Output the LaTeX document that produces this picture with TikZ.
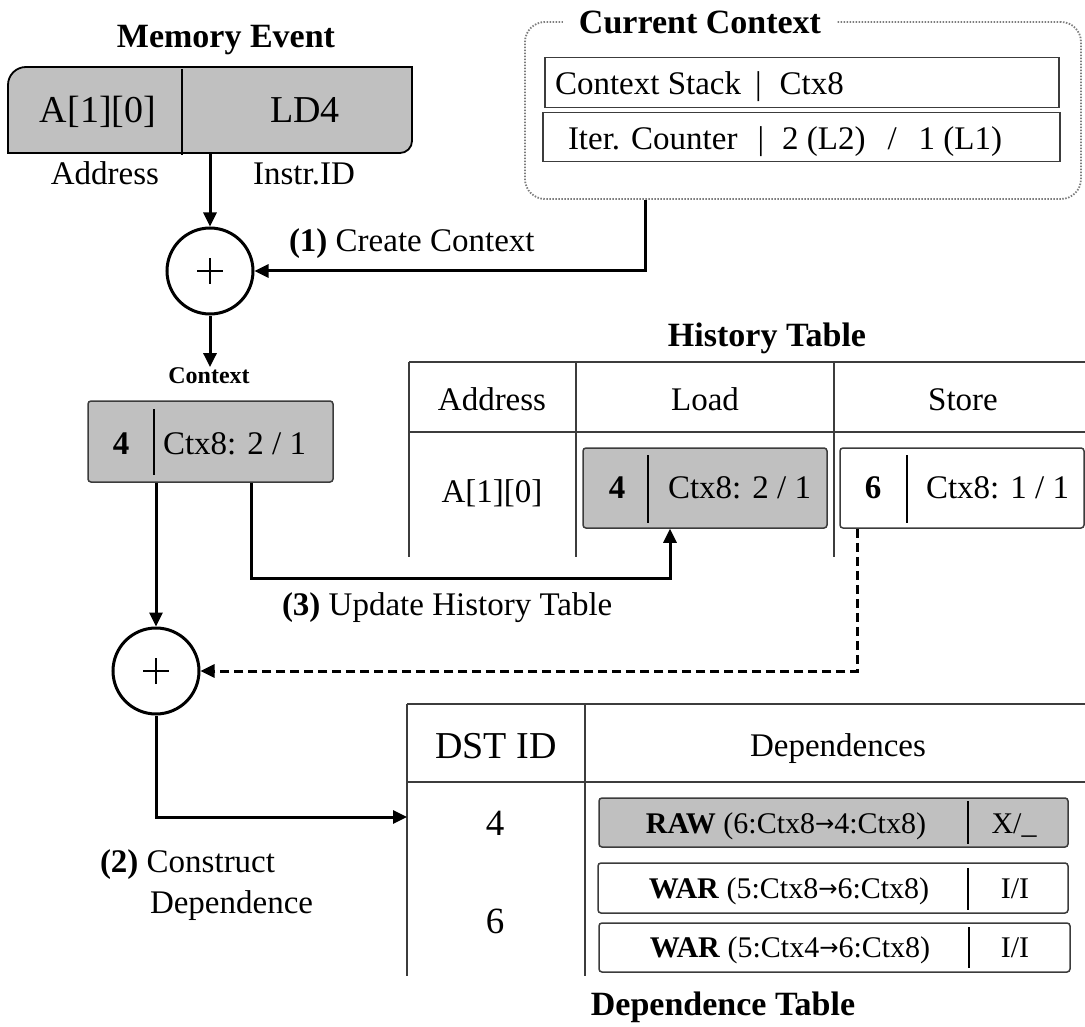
\documentclass[tikz,border=0pt]{standalone}
\usepackage{fontspec}
\setmainfont{Liberation Serif}
\newfontfamily\arrowfamily{DejaVu Sans}
\usetikzlibrary{arrows.meta}

\definecolor{cellgrey}{RGB}{192,192,192}
\definecolor{edgegrey}{RGB}{60,60,60}
\definecolor{dotgrey}{RGB}{125,125,125}
\newcommand\setfs[1]{\fontsize{#1pt}{#1pt}\selectfont}
% arrow between the two context ids of a dependence
\newcommand\deparrow{{\arrowfamily\setfs{23}\raisebox{1.5pt}{→}}}

\begin{document}
\begin{tikzpicture}[x=1pt,y=-1pt,
  txt/.style={inner sep=0pt, outer sep=0pt, font={\setfs{33}}},
  boldtitle/.style={txt, font={\setfs{34}\bfseries}},
  flow/.style={line width=3pt, -{Triangle[length=14pt,width=13pt]}},
  dashflow/.style={flow, dash pattern=on 9pt off 5pt},
  rule/.style={draw=edgegrey, line width=1.4pt},
  rec/.style={draw=edgegrey, line width=1.5pt, rounded corners=3pt, inner sep=0pt},
  divider/.style={line width=2pt},
  thindiv/.style={line width=1.4pt},
  adder/.style={circle, draw, line width=3pt, minimum size=86pt, inner sep=0pt,
    path picture={
      \draw[line width=1.2pt]
        ([xshift=-13pt]path picture bounding box.center) -- ([xshift=13pt]path picture bounding box.center)
        ([yshift=-13pt]path picture bounding box.center) -- ([yshift=13pt]path picture bounding box.center);}},
]
\useasboundingbox (0,0) rectangle (1085,1027);

% ---- memory event ----
\node[boldtitle, anchor=base] (mevtitle) at (226,48) {Memory Event};
\node[inner sep=0pt, minimum width=404pt, minimum height=86pt] (mev) at (210,110) {};
\draw[draw=black, line width=1.8pt, fill=cellgrey]
  (8,153) -- (8,85) .. controls (8,75) and (16,67) .. (26,67) -- (412,67) -- (412,141)
  .. controls (412,147.6) and (406.6,153) .. (400,153) -- cycle;
\draw[divider] (182,69) -- (182,155);
\node[txt, font={\setfs{38}}, anchor=base] (mevaddr) at (98,123) {A[1][0]};
\node[txt, font={\setfs{38}}, anchor=base] (mevinstr) at (305,123) {LD4};
\node[txt, anchor=base] (addrlbl) at (105,185) {Address};
\node[txt, anchor=base] (instrlbl) at (304,185) {Instr.ID};

% ---- current context ----
\node[draw=dotgrey, line width=1.8pt, dash pattern=on 1.5pt off 1.5pt, rounded corners=20pt,
      minimum width=556pt, minimum height=177pt, inner sep=0pt] (cc) at (803,110.5) {};
\node[boldtitle, fill=white, inner xsep=16pt, inner ysep=3pt] (cctitle) at (700,22) {Current Context};
\node[rule, minimum width=514pt, minimum height=50pt, inner sep=0pt] (csrow) at (802,82.5) {};
\node[txt, anchor=base west] (cstext) at (555,95) {Context Stack\hspace{14pt}|\hspace{18pt}Ctx8};
\node[rule, minimum width=517pt, minimum height=49pt, inner sep=0pt] (icrow) at (801.5,137) {};
\node[txt, anchor=base west] (ictext) at (568,150)
  {Iter. Counter\hspace{20pt}|\hspace{18pt}2 (L2)\hspace{22pt}/\hspace{22pt}1 (L1)};

% ---- context creation ----
\node[adder] (add1) at (210,271) {};
\draw[flow] (mev.south -| add1) -- (add1.north);
\draw[flow] ([xshift=-158pt]cc.south) |- (add1.east);
\node[txt, anchor=base west] (lbl1) at (289,252) {\textbf{(1)} Create Context};

\node[txt, font={\setfs{24}\bfseries}, anchor=base] (ctxlbl) at (209,383) {Context};
\draw[flow] (add1.south) -- (ctxlbl.north -| add1);

\node[rec, fill=cellgrey, minimum width=245pt, minimum height=81pt] (ctx) at (210.5,441.5) {};
\draw[divider] (154,409) -- (154,475);
\node[txt, font={\setfs{33}\bfseries}, anchor=base] (ctxid) at (121,454) {4};
\node[txt, anchor=base west] (ctxval) at (163,454) {Ctx8: 2 / 1};

% ---- history table ----
\node[boldtitle, anchor=base] (httitle) at (767,346) {History Table};
\draw[rule] (409,362) -- (1085,362) (409,432) -- (1085,432)
            (409,362) -- (409,557) (576,362) -- (576,557) (834,362) -- (834,557);
\node[txt, anchor=base] (htaddr) at (492,410) {Address};
\node[txt, anchor=base] (htload) at (705,410) {Load};
\node[txt, anchor=base] (htstore) at (963,410) {Store};
\node[txt, anchor=base] (htrow) at (492,502) {A[1][0]};

\node[rec, fill=cellgrey, minimum width=244pt, minimum height=80pt] (ldrec) at (705,488) {};
\draw[divider] (648,455) -- (648,523);
\node[txt, font={\setfs{33}\bfseries}, anchor=base] (ldid) at (617,498) {4};
\node[txt, anchor=base west] (ldval) at (668,498) {Ctx8: 2 / 1};

\node[rec, fill=white, minimum width=244pt, minimum height=80pt] (strec) at (962,488) {};
\draw[divider] (907,455) -- (907,523);
\node[txt, font={\setfs{33}\bfseries}, anchor=base] (stid) at (873,498) {6};
\node[txt, anchor=base west] (stval) at (926,498) {Ctx8: 1 / 1};

% ---- update and dependence construction ----
\draw[flow] ([xshift=40.5pt]ctx.south) -- ++(0,96) -| ([xshift=-35pt]ldrec.south);
\node[txt, anchor=base west] (lbl3) at (282,615) {\textbf{(3)} Update History Table};

\node[adder] (add2) at (156,671) {};
\draw[flow] (ctx.south -| add2) -- (add2.north);
\draw[dashflow] ([xshift=-105pt]strec.south) |- (add2.east);

% ---- dependence table ----
\draw[rule] (407,704) -- (1085,704) (407,782) -- (1085,782)
            (407,704) -- (407,976) (585,704) -- (585,976);
\node[txt, font={\setfs{38}}, anchor=base] (dthead) at (496,758) {DST ID};
\node[txt, anchor=base] (dtdeps) at (838,756) {Dependences};
\node[txt, font={\setfs{37}}, anchor=base] (dst4) at (495,835) {4};
\node[txt, font={\setfs{37}}, anchor=base] (dst6) at (495,933) {6};
\coordinate (dtin) at (407,817);
\draw[flow] (add2.south) |- (dtin);

\node[rec, fill=cellgrey, minimum width=469pt, minimum height=49pt] (raw) at (833.5,822.5) {};
\draw[thindiv] (968,801) -- (968,844);
\node[txt, font={\setfs{30}}, anchor=base] (rawtxt) at (786,833) {\textbf{RAW} (6:Ctx8\deparrow4:Ctx8)};
\node[txt, font={\setfs{30}}, anchor=base] (rawflag) at (1014,833) {X/\_};

\node[rec, fill=white, minimum width=470pt, minimum height=50pt] (war1) at (833,888) {};
\draw[thindiv] (968,868) -- (968,910);
\node[txt, font={\setfs{30}}, anchor=base] (war1txt) at (789,898) {\textbf{WAR} (5:Ctx8\deparrow6:Ctx8)};
\node[txt, font={\setfs{30}}, anchor=base] (war1flag) at (1015,898) {I/I};

\node[rec, fill=white, minimum width=471pt, minimum height=49pt] (war2) at (834.5,947.5) {};
\draw[thindiv] (969,927) -- (969,968);
\node[txt, font={\setfs{30}}, anchor=base] (war2txt) at (790,957) {\textbf{WAR} (5:Ctx4\deparrow6:Ctx8)};
\node[txt, font={\setfs{30}}, anchor=base] (war2flag) at (1015,957) {I/I};

\node[txt, anchor=base west] (lbl2a) at (100,872) {\textbf{(2)} Construct};
\node[txt, anchor=base west] (lbl2b) at (150,913) {Dependence};
\node[boldtitle, anchor=base] (dttitle) at (723,1015) {Dependence Table};
\end{tikzpicture}
\end{document}
